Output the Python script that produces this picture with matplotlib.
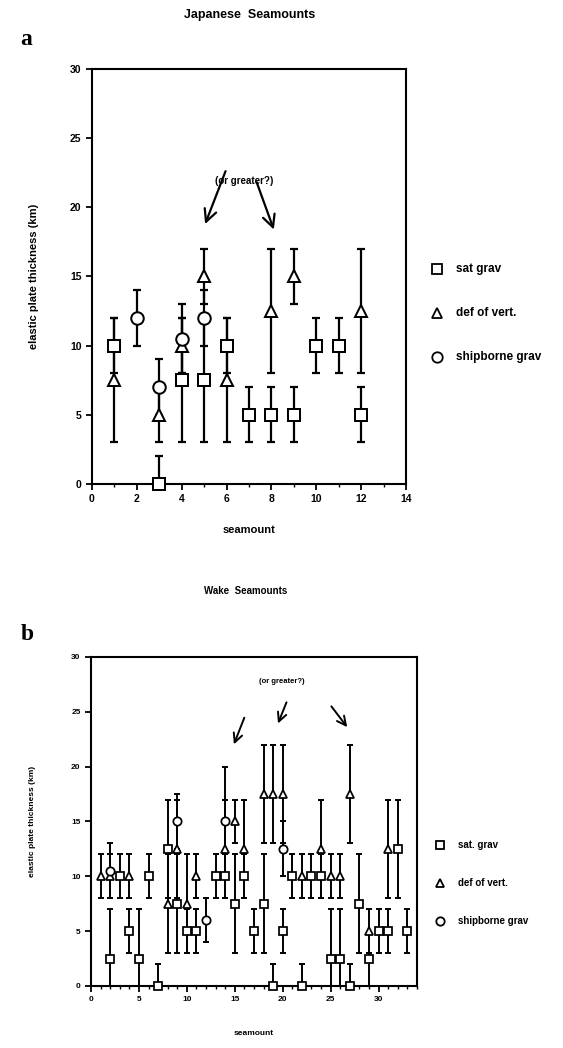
import matplotlib
matplotlib.use("Agg")
import matplotlib.pyplot as plt
from matplotlib.ticker import MultipleLocator

plt.rcParams['font.family'] = ['Liberation Sans', 'DejaVu Sans']
plt.rcParams['font.weight'] = 'bold'

# ---------------- Japanese seamounts ----------------
jp_sat_x = [1, 3, 4, 5, 6, 7, 8, 9, 10, 11, 12]
jp_sat_y = [10, 0, 7.5, 7.5, 10, 5, 5, 5, 10, 10, 5]
jp_sat_lo = [8, 0, 3, 3, 8, 3, 3, 3, 8, 8, 3]
jp_sat_hi = [12, 2, 12, 12, 12, 7, 7, 7, 12, 12, 7]

jp_dov_x = [1, 3, 4, 5, 6, 8, 9, 12]
jp_dov_y = [7.5, 5, 10, 15, 7.5, 12.5, 15, 12.5]
jp_dov_lo = [3, 3, 8, 13, 3, 8, 13, 8]
jp_dov_hi = [12, 7, 12, 17, 12, 17, 17, 17]

jp_ship_x = [2, 3, 4, 5]
jp_ship_y = [12, 7, 10.5, 12]
jp_ship_lo = [10, 5, 8, 10]
jp_ship_hi = [14, 9, 13, 14]

# ---------------- Wake seamounts ----------------
wk_sat_x = [2, 3, 4, 5, 6, 7, 8, 9, 10, 11, 13, 14, 15, 16, 17, 18, 19, 20,
            21, 22, 23, 24, 25, 26, 27, 28, 29, 30, 31, 32, 33]
wk_sat_y = [2.5, 10, 5, 2.5, 10, 0, 12.5, 7.5, 5, 5, 10, 10, 7.5, 10, 5, 7.5, 0, 5,
            10, 0, 10, 10, 2.5, 2.5, 0, 7.5, 2.5, 5, 5, 12.5, 5]
wk_sat_lo = [0, 8, 3, 0, 8, 0, 8, 3, 3, 3, 8, 8, 3, 8, 3, 3, 0, 3,
             8, 0, 8, 8, 0, 0, 0, 3, 0, 3, 3, 8, 3]
wk_sat_hi = [7, 12, 7, 7, 12, 2, 17, 12, 7, 7, 12, 12, 12, 12, 7, 12, 2, 7,
             12, 2, 12, 12, 7, 7, 2, 12, 3, 7, 7, 17, 7]

wk_dov_x = [1, 2, 4, 8, 9, 10, 11, 14, 15, 16, 18, 19, 20, 22, 24, 25, 26, 27, 29, 31]
wk_dov_y = [10, 10, 10, 7.5, 12.5, 7.5, 10, 12.5, 15, 12.5, 17.5, 17.5, 17.5,
            10, 12.5, 10, 10, 17.5, 5, 12.5]
wk_dov_lo = [8, 8, 8, 3, 8, 3, 8, 8, 13, 8, 13, 13, 13, 8, 8, 8, 8, 13, 3, 8]
wk_dov_hi = [12, 12, 12, 12, 17, 12, 12, 17, 17, 17, 22, 22, 22, 12, 17, 12, 12, 22, 7, 17]

wk_ship_x = [2, 9, 12, 14, 20]
wk_ship_y = [10.5, 15, 6, 15, 12.5]
wk_ship_lo = [8, 12.5, 4, 10, 10]
wk_ship_hi = [13, 17.5, 8, 20, 15]

series_labels_a = ["sat grav", "def of vert.", "shipborne grav"]
series_labels_b = ["sat. grav", "def of vert.", "shipborne grav"]
markers = ["s", "^", "o"]


def draw_series(ax, x, y, lo, hi, marker, ms, lw, cap):
    yerr = [[v - l for v, l in zip(y, lo)], [h - v for v, h in zip(y, hi)]]
    ax.errorbar(x, y, yerr=yerr, fmt="none", ecolor="black", elinewidth=lw,
                capsize=cap, capthick=lw, zorder=2, clip_on=False)
    ax.plot(x, y, linestyle="none", marker=marker, markersize=ms,
            markerfacecolor="white", markeredgecolor="black",
            markeredgewidth=lw * 0.9, zorder=3, clip_on=False)


def style_axes(ax, xmax, xmajor, tick_fs):
    ax.set_xlim(0, xmax)
    ax.set_ylim(0, 30)
    ax.xaxis.set_major_locator(MultipleLocator(xmajor))
    ax.xaxis.set_minor_locator(MultipleLocator(1))
    ax.yaxis.set_major_locator(MultipleLocator(5))
    for s in ax.spines.values():
        s.set_linewidth(1.5)
    ax.tick_params(which="major", direction="out", length=4, width=1.3,
                   labelsize=tick_fs)
    ax.tick_params(which="minor", direction="out", length=2.5, width=1.0)
    for lab in ax.get_xticklabels() + ax.get_yticklabels():
        lab.set_fontweight("bold")


def draw_key(ax, x, ys, labels, ms, fs, gap):
    for m, yy, lab in zip(markers, ys, labels):
        ax.plot([x], [yy], transform=ax.transAxes, marker=m, markersize=ms,
                markerfacecolor="white", markeredgecolor="black",
                markeredgewidth=1.3, linestyle="none", clip_on=False)
        ax.text(x + gap, yy, lab, transform=ax.transAxes, fontsize=fs,
                fontweight="bold", va="center", ha="left")


fig = plt.figure(figsize=(5.63, 10.48), dpi=100)

# Panel a
ax1 = fig.add_axes([0.1634, 0.5382, 0.5577, 0.3960])
draw_series(ax1, jp_sat_x, jp_sat_y, jp_sat_lo, jp_sat_hi, "s", 9, 1.6, 3)
draw_series(ax1, jp_dov_x, jp_dov_y, jp_dov_lo, jp_dov_hi, "^", 9, 1.6, 3)
draw_series(ax1, jp_ship_x, jp_ship_y, jp_ship_lo, jp_ship_hi, "o", 9, 1.6, 3)
style_axes(ax1, 14, 2, 7.5)
fig.text(0.443, 0.9857, "Japanese  Seamounts", fontsize=9, fontweight="bold",
         ha="center", va="center")
ax1.set_ylabel("elastic plate thickness (km)", fontsize=8, fontweight="bold")
ax1.yaxis.set_label_coords(-0.17, 0.5)
ax1.set_xlabel("seamount", fontsize=8, fontweight="bold")
ax1.xaxis.set_label_coords(0.5, -0.1)
ax1.text(6.8, 21.9, "(or greater?)", fontsize=7, fontweight="bold", ha="center", va="center")
ax1.annotate("", xy=(5.0, 18.6), xytext=(6.0, 22.8),
             arrowprops=dict(arrowstyle="->", lw=1.6, color="black", mutation_scale=22))
ax1.annotate("", xy=(8.15, 18.2), xytext=(7.3, 22.0),
             arrowprops=dict(arrowstyle="->", lw=1.6, color="black", mutation_scale=22))
draw_key(ax1, 1.10, [0.517, 0.412, 0.306], series_labels_a, 7.5, 8.5, 0.06)

# Panel b
ax2 = fig.add_axes([0.1616, 0.0592, 0.5790, 0.3139])
draw_series(ax2, wk_sat_x, wk_sat_y, wk_sat_lo, wk_sat_hi, "s", 6, 1.4, 2.5)
draw_series(ax2, wk_dov_x, wk_dov_y, wk_dov_lo, wk_dov_hi, "^", 6, 1.4, 2.5)
draw_series(ax2, wk_ship_x, wk_ship_y, wk_ship_lo, wk_ship_hi, "o", 6, 1.4, 2.5)
style_axes(ax2, 34, 5, 6)
fig.text(0.437, 0.436, "Wake  Seamounts", fontsize=7, fontweight="bold",
         ha="center", va="center")
ax2.set_ylabel("elastic plate thickness (km)", fontsize=6, fontweight="bold")
ax2.yaxis.set_label_coords(-0.17, 0.5)
ax2.set_xlabel("seamount", fontsize=6, fontweight="bold")
ax2.xaxis.set_label_coords(0.5, -0.135)
ax2.text(19.9, 27.8, "(or greater?)", fontsize=5.5, fontweight="bold", ha="center", va="center")
ax2.annotate("", xy=(14.8, 21.8), xytext=(16.1, 24.7),
             arrowprops=dict(arrowstyle="->", lw=1.4, color="black", mutation_scale=16))
ax2.annotate("", xy=(19.4, 23.7), xytext=(20.5, 26.1),
             arrowprops=dict(arrowstyle="->", lw=1.4, color="black", mutation_scale=16))
ax2.annotate("", xy=(26.9, 23.4), xytext=(24.9, 25.7),
             arrowprops=dict(arrowstyle="->", lw=1.4, color="black", mutation_scale=16))
draw_key(ax2, 1.07, [0.43, 0.313, 0.198], series_labels_b, 6, 7, 0.055)

fig.text(0.036, 0.957, "a", fontsize=17, fontweight="bold", family="Liberation Serif")
fig.text(0.036, 0.389, "b", fontsize=17, fontweight="bold", family="Liberation Serif")

fig.savefig("out.png", dpi=100)
